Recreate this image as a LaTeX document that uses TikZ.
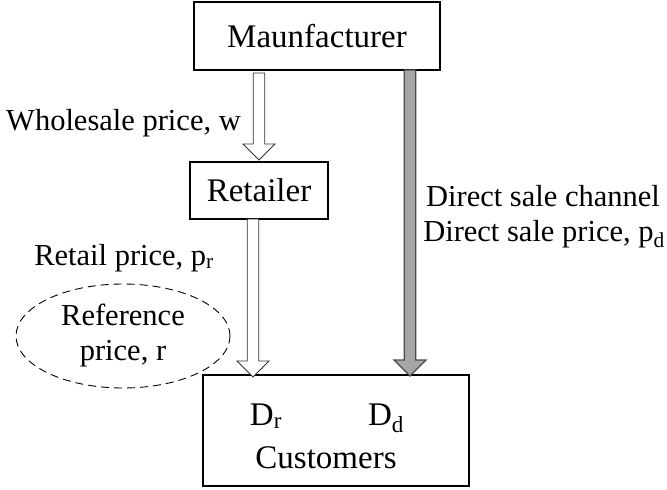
\documentclass[tikz,border=0pt]{standalone}
\usepackage{fontspec}
\setmainfont{Liberation Serif}
\usetikzlibrary{calc}
\usetikzlibrary{shapes.geometric}
\definecolor{channelgray}{RGB}{166,166,166}
\tikzset{
    box/.style={
        draw,
        line width=1.2pt,
        inner sep=0pt,
        font=\fontsize{33}{38}\selectfont
    },
    tag/.style={
        inner sep=0pt,
        font=\fontsize{30.5}{35}\selectfont
    },
    hollow/.style={
        draw=black!80,
        line width=0.9pt,
        fill=white
    },
    filled/.style={
        draw=black!70,
        line width=1.1pt,
        fill=channelgray
    }
}
% fat arrow: #1 style, #2 start of shaft, #3 tip
\newcommand{\fatarrow}[3]{%
    \draw[#1] ($(#2)+(-5.75,0)$) -- ($(#3)+(-5.75,-16)$) -- ($(#3)+(-16,-16)$) -- (#3)
        -- ($(#3)+(16,-16)$) -- ($(#3)+(5.75,-16)$) -- ($(#2)+(5.75,0)$) -- cycle;}

\begin{document}
\begin{tikzpicture}[x=1pt, y=-1pt]
    \useasboundingbox (0,0) rectangle (667,490);
    \node[box, minimum width=246pt, minimum height=68pt] (man) at (317,36) {Maunfacturer};
    \node[box, minimum width=138pt, minimum height=57pt] (ret) at (259,190.5) {Retailer};
    \node[box, minimum width=266pt, minimum height=111pt] (cust) at (336,430.5) {};
    \node[box, draw=none, anchor=base] (dr) at (266,425) {D\textsubscript{r}};
    \node[box, draw=none, anchor=base] (dd) at (386,425) {D\textsubscript{d}};
    \node[box, draw=none, anchor=base] (custtext) at (326,468) {Customers};
    \node[tag, ellipse, draw, dashed, dash pattern=on 8pt off 5pt, line width=0.9pt,
        minimum width=214pt, minimum height=104pt, align=center] (ref) at (123,336) {Reference\\price, r};
    \node[tag, anchor=base east] (wlabel) at (241,130) {Wholesale price, w};
    \node[tag, anchor=base east] (rlabel) at (214,265) {Retail price, p\textsubscript{r}};
    \node[tag, anchor=base] (dchannel) at (543,206.5) {Direct sale channel};
    \node[tag, anchor=base] (dprice) at (544,241.5) {Direct sale price, p\textsubscript{d}};
    % channels
    \coordinate (w0) at (259,73);
    \coordinate (w1) at (259,160);
    \coordinate (r0) at (253,219);
    \coordinate (r1) at (253,377);
    \coordinate (d0) at (410,70);
    \coordinate (d1) at (410,376);
    \fatarrow{hollow}{w0}{w1}
    \fatarrow{hollow}{r0}{r1}
    \fatarrow{filled}{d0}{d1}
\end{tikzpicture}
\end{document}
